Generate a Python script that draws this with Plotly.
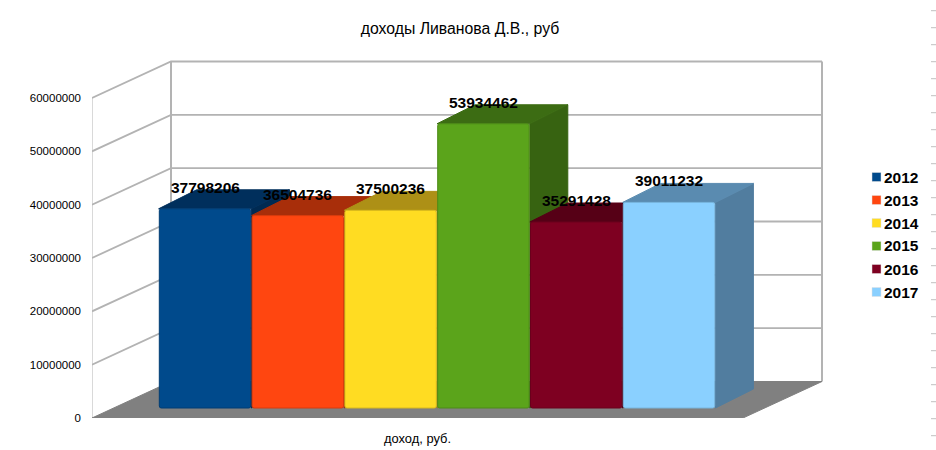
import plotly.graph_objects as go

# chart data
years = ['2012', '2013', '2014', '2015', '2016', '2017']
income = [37798206, 36504736, 37500236, 53934462, 35291428, 39011232]
y_ticks = [0, 10000000, 20000000, 30000000, 40000000, 50000000, 60000000]

front_colors = ['#004a8c', '#ff4610', '#ffdc22', '#5ba41b', '#7e0021', '#8ad0ff']
edge_colors = ['#003d74', '#d93b0c', '#d9ba1c', '#4d8b17', '#6a001c', '#78b6de']
top_colors = ['#002f5c', '#a82e0a', '#ad9016', '#3c6c13', '#560016', '#5a8bb0']
side_colors = ['#002a52', '#962909', '#9a8014', '#376311', '#4d0014', '#517d9f']

WIDTH, HEIGHT = 936, 450
PLOT_L, PLOT_T, ZERO_Y = 92, 50, 418
PX_PER_RUB = 320 / 60000000
BAR_PX_PER_RUB = 5.27 / 1000000  # bars stand deeper in the box, so they scale a bit smaller
PX_PER_BAR = 92.8

# fake 3d: oblique offsets for the walls and for the bars
def px_x(px):
    return (px - 205) / PX_PER_BAR

def px_h(px):
    return px / PX_PER_RUB

def px_b(px):
    return px / BAR_PX_PER_RUB

wall_dx, wall_dy = 79 / PX_PER_BAR, px_h(36.5)
bar_dx, bar_dy = 38 / PX_PER_BAR, px_b(19)
bar_base = px_b(10)
floor_l, floor_r = px_x(92), px_x(743)
grid_color = '#b3b3b3'

fig = go.Figure()

# back wall and left wall grid
for tick in y_ticks[1:]:
    fig.add_trace(go.Scatter(
        x=[floor_l, floor_l + wall_dx, floor_r + wall_dx],
        y=[tick, tick + wall_dy, tick + wall_dy],
        mode='lines', line=dict(color=grid_color, width=1.8),
        showlegend=False, hoverinfo='skip', zorder=0))
for x0, w in [(floor_l + wall_dx, 2), (floor_r + wall_dx, 2)]:
    fig.add_trace(go.Scatter(
        x=[x0, x0], y=[wall_dy, y_ticks[-1] + wall_dy],
        mode='lines', line=dict(color=grid_color, width=w),
        showlegend=False, hoverinfo='skip', zorder=0))
fig.add_trace(go.Scatter(
    x=[floor_l, floor_l], y=[0, y_ticks[-1]],
    mode='lines', line=dict(color=grid_color, width=1),
    showlegend=False, hoverinfo='skip', zorder=0))

# floor
fig.add_trace(go.Scatter(
    x=[floor_l, floor_r, floor_r + wall_dx, floor_l + wall_dx, floor_l],
    y=[0, 0, wall_dy, wall_dy, 0],
    mode='lines', fill='toself', fillcolor='#808080', line=dict(color='#808080', width=1),
    showlegend=False, hoverinfo='skip', zorder=1))

# bar sides and tops, left to right so later bars cover earlier ones
for i, val in enumerate(income):
    r = i + 0.5
    l = i - 0.5
    top = val + bar_base
    fig.add_trace(go.Scatter(
        x=[r, r + bar_dx, r + bar_dx, r, r],
        y=[bar_base, bar_base + bar_dy, top + bar_dy, top, bar_base],
        mode='lines', fill='toself', fillcolor=side_colors[i], line=dict(color=side_colors[i], width=1),
        showlegend=False, hoverinfo='skip', yaxis='y2', zorder=2 + i))
    fig.add_trace(go.Scatter(
        x=[l, r, r + bar_dx, l + bar_dx, l],
        y=[top, top, top + bar_dy, top + bar_dy, top],
        mode='lines', fill='toself', fillcolor=top_colors[i], line=dict(color=top_colors[i], width=1),
        showlegend=False, hoverinfo='skip', yaxis='y2', zorder=2 + i))

# front faces
for i, (year, val) in enumerate(zip(years, income)):
    fig.add_trace(go.Bar(
        x=[i], y=[val], base=bar_base, width=0.985, name=year, showlegend=False, yaxis='y2',
        marker=dict(color=front_colors[i], line=dict(color=edge_colors[i], width=1), cornerradius=2),
        zorder=20))

# value labels
for i, val in enumerate(income):
    fig.add_annotation(
        x=i, y=val + bar_base, yref='y2', text=str(val), showarrow=False,
        yanchor='bottom', yshift=11,
        font=dict(family='Liberation Sans', size=15.5, color='black', weight='bold'))

# axis title
fig.add_annotation(
    x=417.5 / WIDTH, y=1 - 438 / HEIGHT, xref='paper', yref='paper', text='доход, руб.',
    showarrow=False, yanchor='middle',
    font=dict(family='Liberation Sans', size=12.9, color='black'))

# legend drawn by hand, plotly cannot put the swatch this close to the text
for i, year in enumerate(years):
    row_y = 177 + 23 * i
    fig.add_shape(type='rect', xref='paper', yref='paper',
                  x0=872 / WIDTH, x1=881 / WIDTH,
                  y0=1 - (row_y - 4.5) / HEIGHT, y1=1 - (row_y + 4.5) / HEIGHT,
                  fillcolor=front_colors[i], line=dict(color='#e0e0e0', width=0.5))
    fig.add_annotation(
        x=884 / WIDTH, y=1 - row_y / HEIGHT, xref='paper', yref='paper', text=year,
        showarrow=False, xanchor='left', yanchor='middle', xshift=-2,
        font=dict(family='Liberation Sans', size=15.5, color='black', weight='bold'))

# dashes along the right edge of the picture
for k in range(26):
    y_pos = 1 - (10.7 + 17 * k) / HEIGHT
    fig.add_shape(type='line', xref='paper', yref='paper',
                  x0=931 / WIDTH, x1=1, y0=y_pos, y1=y_pos,
                  line=dict(color='#c0c0c0', width=1))

fig.update_layout(
    width=WIDTH, height=HEIGHT,
    margin=dict(l=0, r=0, t=0, b=0, autoexpand=False),
    paper_bgcolor='white', plot_bgcolor='white',
    barmode='overlay',
    showlegend=False,
    title=dict(text='доходы Ливанова Д.В., руб', x=460 / WIDTH, xanchor='center',
               y=1 - 28 / HEIGHT, yanchor='middle',
               font=dict(family='Liberation Sans', size=15.8, color='black')),
    xaxis=dict(domain=[PLOT_L / WIDTH, 1], range=[px_x(PLOT_L), px_x(WIDTH)],
               visible=False),
    yaxis=dict(domain=[1 - ZERO_Y / HEIGHT, 1 - PLOT_T / HEIGHT],
               range=[0, (ZERO_Y - PLOT_T) / PX_PER_RUB],
               tickmode='array', tickvals=y_ticks, ticktext=[str(t) for t in y_ticks],
               showgrid=False, zeroline=False, showline=False,
               ticklabelstandoff=10,
               tickfont=dict(family='Liberation Sans', size=11.5, color='black')),
    yaxis2=dict(overlaying='y', side='left', visible=False,
                range=[0, (ZERO_Y - PLOT_T) / BAR_PX_PER_RUB]),
)

# the page body has a default margin that would shift the chart
fig.write_html("out.html", config=dict(displayModeBar=False),
               post_script="document.body.style.margin='0';")
